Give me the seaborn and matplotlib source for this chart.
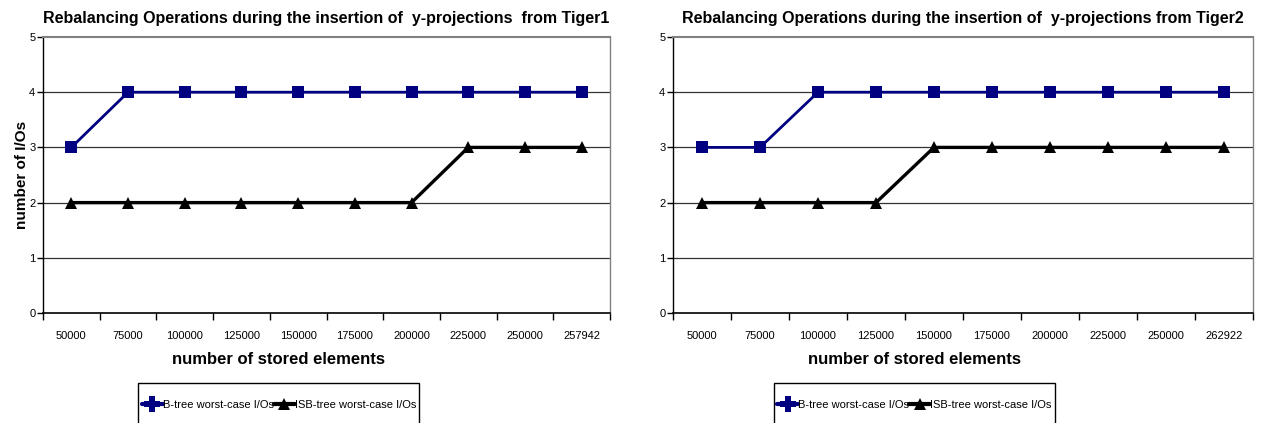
import matplotlib
matplotlib.use("Agg")
import matplotlib.pyplot as plt
import seaborn as sns
import pandas as pd
import numpy as np
from matplotlib.ticker import FixedLocator
from matplotlib.lines import Line2D
from matplotlib.patches import Rectangle

sns.set_theme(style="white")
plt.rcParams['font.family'] = ['Liberation Sans', 'DejaVu Sans']
plt.rcParams['text.color'] = 'black'
plt.rcParams['axes.labelcolor'] = 'black'
plt.rcParams['xtick.color'] = 'black'
plt.rcParams['ytick.color'] = 'black'

labels1 = ["50000", "75000", "100000", "125000", "150000", "175000", "200000", "225000", "250000", "257942"]
btree1 = [3, 4, 4, 4, 4, 4, 4, 4, 4, 4]
isb1 = [2, 2, 2, 2, 2, 2, 2, 3, 3, 3]

labels2 = ["50000", "75000", "100000", "125000", "150000", "175000", "200000", "225000", "250000", "262922"]
btree2 = [3, 3, 4, 4, 4, 4, 4, 4, 4, 4]
isb2 = [2, 2, 2, 2, 3, 3, 3, 3, 3, 3]

titles = ["Rebalancing Operations during the insertion of  y-projections  from Tiger1",
          "Rebalancing Operations during the insertion of  y-projections from Tiger2"]
series_names = ["B-tree worst-case I/Os", "ISB-tree worst-case I/Os"]
colors = {series_names[0]: "#000080", series_names[1]: "#000000"}

W, H = 1262, 423
fig = plt.figure(figsize=(W / 100, H / 100), dpi=100)
axes = [fig.add_axes([43/W, 1-313/H, 567/W, 276/H]),
        fig.add_axes([673/W, 1-313/H, 580/W, 276/H])]

legends = []
for ax, labels, bt, isb, title in zip(axes, [labels1, labels2], [btree1, btree2], [isb1, isb2], titles):
    n = len(labels)
    df = pd.DataFrame({"pos": list(range(n)) * 2,
                       "val": bt + isb,
                       "series": [series_names[0]] * n + [series_names[1]] * n})
    sns.lineplot(data=df[df.series == series_names[0]], x="pos", y="val",
                 color=colors[series_names[0]], marker="s", markersize=8, linewidth=2,
                 markeredgewidth=0, ax=ax, legend=False, zorder=3)
    sns.lineplot(data=df[df.series == series_names[1]], x="pos", y="val",
                 color=colors[series_names[1]], marker="^", markersize=8.5, linewidth=2.4,
                 markeredgewidth=0, ax=ax, legend=False, zorder=3)
    ax.set_xlim(-0.5, n - 0.5)
    ax.set_ylim(0, 5)
    ax.set_yticks([0, 1, 2, 3, 4, 5])
    ax.set_yticklabels(["0", "1", "2", "3", "4", "5"], fontsize=8)
    ax.set_xticks(range(n))
    ax.set_xticklabels(labels, fontsize=8)
    ax.xaxis.set_minor_locator(FixedLocator(np.arange(-0.5, n, 1.0)))
    ax.tick_params(axis='x', which='major', length=0, pad=13)
    ax.tick_params(axis='x', which='minor', length=5, width=1, color='black', direction='out', bottom=True)
    ax.tick_params(axis='y', length=4, width=1, color='black', direction='out', left=True, pad=1.5)
    for y in [1, 2, 3, 4]:
        ax.axhline(y, color='#333333', linewidth=0.9, zorder=0)
    ax.spines['left'].set_color('black')
    ax.spines['bottom'].set_color('black')
    ax.spines['bottom'].set_linewidth(1.2)
    ax.spines['left'].set_linewidth(1)
    ax.spines['top'].set_color('#808080')
    ax.spines['top'].set_linewidth(1.5)
    ax.spines['right'].set_color('#808080')
    ax.spines['right'].set_linewidth(1)
    ax.set_xlabel("number of stored elements", fontsize=12, fontweight='bold')
    ax.xaxis.set_label_coords(0.416, -0.17, transform=ax.transAxes)
    ax.xaxis.label.set_verticalalignment('center')
    ax.set_ylabel("")
    ax.set_title(title, fontsize=11.5, fontweight='bold', pad=10)
    handles = [Line2D([], [], color=colors[series_names[0]], marker='P', markersize=11,
                      markeredgewidth=0, linewidth=3),
               Line2D([], [], color=colors[series_names[1]], marker='^', markersize=9,
                      markeredgewidth=0, linewidth=3)]
    leg = ax.legend(handles, series_names, loc='center', bbox_to_anchor=(0.416, -(405 - 313) / 276),
                    ncol=2, frameon=False, fontsize=8,
                    columnspacing=0.0, handletextpad=0.0, handlelength=1.9,
                    borderpad=0.2, borderaxespad=0)
    legends.append(leg)

axes[0].set_ylabel("number of I/Os", fontsize=11, fontweight='bold', labelpad=0)

fig.canvas.draw()
for leg in legends:
    bb = leg.get_window_extent()
    x0, x1 = bb.x0 - 1, bb.x1 + 1
    top = H - 383
    fig.patches.append(Rectangle((x0 / W, -0.05), (x1 - x0) / W, top / H + 0.05,
                                 transform=fig.transFigure, fill=False,
                                 edgecolor='black', linewidth=1, figure=fig))

fig.savefig("out.png", dpi=100)
